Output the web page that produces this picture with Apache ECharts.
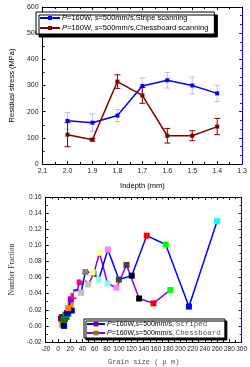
<!DOCTYPE html>
<html><head><meta charset="utf-8">
<script src="https://cdn.jsdelivr.net/npm/echarts@6/dist/echarts.min.js"></script>
<style>html,body{margin:0;padding:0;background:#fff}#c{width:250px;height:367px}</style>
</head><body><div id="c"></div>
<script>
// ---------- Top panel data ----------
const depth = [2.0, 1.9, 1.8, 1.7, 1.6, 1.5, 1.4];
const stripeStress = [165, 158, 185, 298, 320, 300, 270];
const stripeErr = [32, 33, 23, 31, 30, 32, 31];
const chessStress = [112, 93, 315, 262, 108, 108, 143];
const chessErr = [46, 5, 26, 30, 28, 19, 31];
const depthTicks = [2.1, 2.0, 1.9, 1.8, 1.7, 1.6, 1.5, 1.4, 1.3];
const stressTicks = [0, 100, 200, 300, 400, 500, 600];

// ---------- Bottom panel data ----------
const stripedX = [5, 7, 9, 12, 15, 16.8, 21, 25.5, 31, 37.8, 44.7, 56.2, 66.8, 81.5, 99.5, 120.5, 145, 176, 214, 260];
const stripedY = [0.009, 0.011, 0.008, 0.014, 0.016, 0.022, 0.033, 0.037, 0.039, 0.041, 0.0668, 0.0665, 0.0575, 0.0948, 0.0575, 0.0623, 0.112, 0.101, 0.024, 0.130];
const chessX = [7.3, 10, 8, 11, 14, 17, 22.6, 20.5, 30, 35.5, 42, 49.4, 58.4, 67.9, 81, 95.7, 112, 132.6, 156, 183.6];
const chessY = [0.0016, 0.000, 0.011, 0.008, 0.011, 0.015, 0.019, 0.027, 0.042, 0.054, 0.060, 0.0514, 0.0648, 0.0908, 0.0526, 0.0474, 0.0757, 0.034, 0.028, 0.0446];
const grainTicks = [-20, 0, 20, 40, 60, 80, 100, 120, 140, 160, 180, 200, 220, 240, 260, 280, 300];
const fractionTicks = [-0.02, 0, 0.02, 0.04, 0.06, 0.08, 0.10, 0.12, 0.14, 0.16];

// ---------- styles (Origin auto-increment colours) ----------
const pal = {black:'#000000', red:'#FF0000', green:'#00FF00', blue:'#0000FF', cyan:'#00FFFF',
  dkyellow:'#808000', navy:'#000080', purple:'#800080', wine:'#800000', olive:'#008000',
  dkcyan:'#008080', royal:'#0000A0', orange:'#FF8000', violet:'#8000FF', pink:'#FF0080',
  white:'#FFFFFF', ltgray:'#C0C0C0', gray:'#808080', ltyellow:'#FFFF80', ltcyan:'#80FFFF',
  ltmagenta:'#FF80FF', dkgray:'#404040'};
const seqOrder = ['dkyellow','navy','purple','wine','olive','dkcyan','royal','orange','violet','pink','white',
  'ltgray','gray','ltyellow','ltcyan','ltmagenta','dkgray','black','red','green','blue','cyan'];
const stripedColors = seqOrder.slice(2, 22).map(k => pal[k]);
const chessColors = seqOrder.slice(0, 20).map(k => pal[k]);

const SANS = 'Liberation Sans';
const chart = echarts.init(document.getElementById('c'), null, {renderer: 'canvas'});

function errSeries(name, xs, ys, es, color, capW) {
  return {
    type: 'custom', name: name, xAxisIndex: 0, yAxisIndex: 0, z: 1,
    data: xs.map((x, i) => [x, ys[i] - es[i], ys[i] + es[i]]),
    encode: {x: 0, y: [1, 2]},
    renderItem: function (params, api) {
      const x = api.value(0);
      const pHi = api.coord([x, api.value(2)]);
      const pLo = api.coord([x, api.value(1)]);
      const st = {stroke: color, lineWidth: 1};
      return {type: 'group', children: [
        {type: 'line', shape: {x1: pHi[0], y1: pHi[1], x2: pLo[0], y2: pLo[1]}, style: st},
        {type: 'line', shape: {x1: pHi[0] - capW, y1: pHi[1], x2: pHi[0] + capW, y2: pHi[1]}, style: st},
        {type: 'line', shape: {x1: pLo[0] - capW, y1: pLo[1], x2: pLo[0] + capW, y2: pLo[1]}, style: st}
      ]};
    }
  };
}

const axLine = {show: true, onZero: false, lineStyle: {color: '#000', width: 1}};
const blueLine = {show: true, onZero: false, lineStyle: {color: '#0000FF', width: 1}};
const lbl = {fontSize: 7, color: '#222', fontFamily: SANS};

const option = {
  animation: false,
  backgroundColor: '#fff',
  grid: [
    {left: 29, top: 7, width: 215, height: 157},
    {left: 40, top: 197, width: 203, height: 147}
  ],
  legend: [
    {
      data: ['stripeTop', 'chessTop'], orient: 'vertical', left: 36, top: 12,
      itemWidth: 20, itemHeight: 5, itemGap: 2, padding: [2, 6, 2, 3],
      backgroundColor: '#fff', borderColor: '#000', borderWidth: 1,
      shadowColor: '#000', shadowOffsetX: 3, shadowOffsetY: 3, shadowBlur: 0,
      textStyle: {fontSize: 7.5, fontFamily: SANS, color: '#000', padding: [0, 0, 0, -3],
        rich: {i: {fontStyle: 'italic', fontSize: 7.5, fontFamily: SANS, color: '#000'}}},
      formatter: function (n) {
        return n === 'stripeTop' ? '{i|P}=160W, {i|s}=500mm/s,Stripe scanning'
                                 : '{i|P}=160W, {i|s}=500mm/s,Chessboard scanning';
      }
    },
    {
      data: ['stripedGrain', 'chessGrain'], orient: 'vertical', left: 84, top: 319,
      itemWidth: 18, itemHeight: 6, itemGap: 1, padding: [1, 4, 1, 2],
      backgroundColor: '#fff', borderColor: '#000', borderWidth: 1,
      shadowColor: '#000', shadowOffsetX: 2, shadowOffsetY: 2, shadowBlur: 0,
      textStyle: {fontSize: 7, fontFamily: SANS, color: '#000', padding: [0, 0, 0, -3],
        rich: {i: {fontStyle: 'italic', fontSize: 7, fontFamily: SANS, color: '#000'},
               m: {fontFamily: 'Liberation Mono', fontSize: 7.5, color: '#555'}}},
      formatter: function (n) {
        return n === 'stripedGrain' ? '{i|P}=160W,{i|s}=500mm/s, {m|Striped}'
                                    : '{i|P}=160W,{i|s}=500mm/s, {m|Chessboard}';
      }
    }
  ],
  xAxis: [
    {
      type: 'value', gridIndex: 0, position: 'bottom', inverse: true,
      min: depthTicks[depthTicks.length - 1], max: depthTicks[0], interval: 0.1,
      axisLine: axLine, splitLine: {show: false},
      axisTick: {inside: true, length: 3, lineStyle: {color: '#000'}},
      minorTick: {show: true, splitNumber: 2, length: 2, lineStyle: {color: '#000'}},
      axisLabel: Object.assign({margin: 4, formatter: v => v.toFixed(1)}, lbl),
      name: 'Indepth (mm)', nameLocation: 'middle', nameGap: 18,
      nameTextStyle: {fontSize: 7.5, fontFamily: SANS, color: '#000'}
    },
    {
      type: 'value', gridIndex: 0, position: 'top', inverse: true,
      min: depthTicks[depthTicks.length - 1], max: depthTicks[0], interval: 0.1,
      axisLine: axLine, splitLine: {show: false}, axisLabel: {show: false},
      axisTick: {inside: true, length: 3, lineStyle: {color: '#000'}},
      minorTick: {show: true, splitNumber: 2, length: 2, lineStyle: {color: '#000'}}
    },
    {
      type: 'value', gridIndex: 1, position: 'bottom',
      min: grainTicks[0], max: grainTicks[grainTicks.length - 1], interval: 20,
      axisLine: axLine, splitLine: {show: false},
      axisTick: {inside: true, length: 3, lineStyle: {color: '#000'}},
      minorTick: {show: true, splitNumber: 2, length: 2, lineStyle: {color: '#000'}},
      axisLabel: Object.assign({margin: 4}, lbl, {fontSize: 6.5}),
      name: 'Grain size ( \u03bc m)', nameLocation: 'middle', nameGap: 17,
      nameTextStyle: {fontSize: 7, fontFamily: 'Liberation Mono', color: '#555'}
    },
    {
      type: 'value', gridIndex: 1, position: 'top',
      min: grainTicks[0], max: grainTicks[grainTicks.length - 1], interval: 20,
      axisLine: axLine, splitLine: {show: false}, axisLabel: {show: false},
      axisTick: {inside: true, length: 3, lineStyle: {color: '#000'}},
      minorTick: {show: true, splitNumber: 2, length: 2, lineStyle: {color: '#000'}}
    }
  ],
  yAxis: [
    {
      type: 'value', gridIndex: 0, position: 'left',
      min: stressTicks[0], max: stressTicks[stressTicks.length - 1], interval: 100,
      axisLine: axLine, splitLine: {show: false},
      axisTick: {show: true, inside: true, length: 3, lineStyle: {color: '#000'}},
      minorTick: {show: true, splitNumber: 2, length: 2, lineStyle: {color: '#000'}},
      axisLabel: Object.assign({margin: 4}, lbl),
      name: 'Residual stress (MPa)', nameLocation: 'middle', nameGap: 19, nameRotate: 90,
      nameTextStyle: {fontSize: 7.5, fontFamily: SANS, color: '#000'}
    },
    {
      type: 'value', gridIndex: 0, position: 'right',
      min: stressTicks[0], max: stressTicks[stressTicks.length - 1], interval: 100,
      axisLine: blueLine, splitLine: {show: false}, axisLabel: {show: false},
      axisTick: {show: true, inside: true, length: 3, lineStyle: {color: '#0000FF'}},
      minorTick: {show: true, splitNumber: 3, length: 2, lineStyle: {color: '#0000FF'}}
    },
    {
      type: 'value', gridIndex: 1, position: 'left',
      min: fractionTicks[0], max: fractionTicks[fractionTicks.length - 1], interval: 0.02,
      axisLine: axLine, splitLine: {show: false},
      axisTick: {show: true, inside: true, length: 3, lineStyle: {color: '#000'}},
      minorTick: {show: true, splitNumber: 2, length: 2, lineStyle: {color: '#000'}},
      axisLabel: Object.assign({margin: 4, formatter: v => v.toFixed(2)}, lbl, {fontSize: 6.5}),
      name: 'Number Fraction', nameLocation: 'middle', nameGap: 24, nameRotate: 90,
      nameTextStyle: {fontSize: 7.5, fontFamily: 'Liberation Serif', color: '#333'}
    },
    {
      type: 'value', gridIndex: 1, position: 'right',
      min: fractionTicks[0], max: fractionTicks[fractionTicks.length - 1], interval: 0.02,
      axisLine: blueLine, splitLine: {show: false}, axisLabel: {show: false},
      axisTick: {show: true, inside: true, length: 3, lineStyle: {color: '#0000FF'}},
      minorTick: {show: true, splitNumber: 2, length: 2, lineStyle: {color: '#0000FF'}}
    }
  ],
  series: [
    errSeries('stripeErr', depth, stripeStress, stripeErr, 'rgba(110,110,255,0.45)', 3),
    errSeries('chessErr', depth, chessStress, chessErr, '#800000', 3),
    {
      type: 'line', name: 'stripeTop', xAxisIndex: 0, yAxisIndex: 0, z: 3,
      data: depth.map((d, i) => [d, stripeStress[i]]),
      symbol: 'rect', symbolSize: 4, showSymbol: true,
      itemStyle: {color: '#0000FF'}, lineStyle: {color: '#0000FF', width: 1.5}
    },
    {
      type: 'line', name: 'chessTop', xAxisIndex: 0, yAxisIndex: 0, z: 3,
      data: depth.map((d, i) => [d, chessStress[i]]),
      symbol: 'rect', symbolSize: 4, showSymbol: true,
      itemStyle: {color: '#800000'}, lineStyle: {color: '#800000', width: 1.5}
    },
    {
      type: 'line', name: 'stripedGrain', xAxisIndex: 2, yAxisIndex: 2, z: 4,
      data: stripedX.map((x, i) => ({value: [x, stripedY[i]], itemStyle: {color: stripedColors[i]}})),
      symbol: 'rect', symbolSize: 6, showSymbol: true,
      itemStyle: {color: stripedColors[0]}, lineStyle: {color: '#0000FF', width: 1.5}
    },
    {
      type: 'line', name: 'chessGrain', xAxisIndex: 2, yAxisIndex: 2, z: 3,
      data: chessX.map((x, i) => ({value: [x, chessY[i]], itemStyle: {color: chessColors[i]}})),
      symbol: 'rect', symbolSize: 6, showSymbol: true,
      itemStyle: {color: chessColors[0]}, lineStyle: {color: '#8000FF', width: 1.5}
    }
  ]
};
chart.setOption(option);
</script></body></html>
